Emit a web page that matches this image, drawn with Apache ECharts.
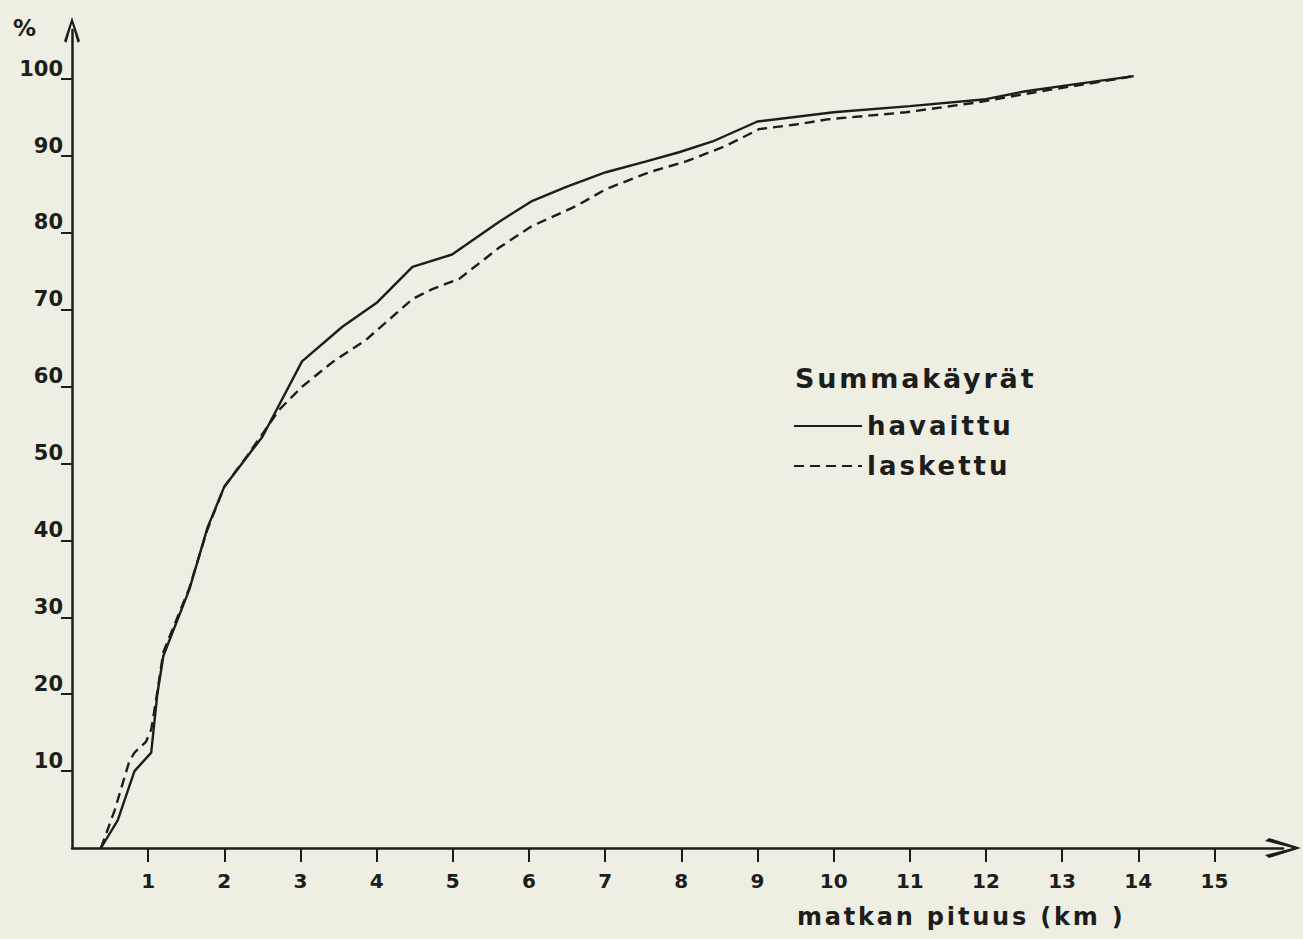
<!DOCTYPE html>
<html>
<head>
<meta charset="utf-8">
<title>Summakäyrät – matkan pituus</title>
<script src="https://cdn.jsdelivr.net/npm/echarts@6/dist/echarts.min.js"></script>
<style>
  html, body { margin: 0; padding: 0; background: #eeeee2; }
  #chart { width: 1303px; height: 939px; }
</style>
</head>
<body>
<div id="chart"></div>
<script>
// Cumulative share of trips (%) by trip length (km)
const havaittuKm  = [0.38, 0.6, 0.82, 1.04, 1.12, 1.2, 1.54, 1.78, 2.0, 2.5, 3.02, 3.55, 4.01, 4.47, 4.99, 5.6, 6.03, 6.49, 7.01, 7.54, 7.97, 8.41, 9.0, 10.0, 11.0, 12.0, 12.5, 13.13, 13.94];
const havaittuPct = [0, 3.6, 10, 12.4, 20, 25, 33.6, 41.7, 47, 53.5, 63.3, 67.8, 71, 75.6, 77.2, 81.4, 84.1, 86, 87.9, 89.3, 90.5, 91.9, 94.5, 95.7, 96.5, 97.4, 98.4, 99.3, 100.4];

const laskettuKm  = [0.38, 0.56, 0.75, 0.82, 0.97, 1.04, 1.1, 1.2, 1.54, 1.78, 2.0, 2.3, 2.72, 3.02, 3.42, 3.86, 4.16, 4.47, 4.73, 5.08, 5.61, 6.04, 6.62, 7.01, 7.58, 8.06, 8.58, 9.02, 9.5, 9.94, 10.95, 11.9, 12.7, 13.4, 13.94];
const laskettuPct = [0, 4.9, 11.2, 12.4, 13.8, 15.4, 19, 25.5, 33.8, 41.5, 47, 51, 57, 60, 63.2, 66.1, 68.7, 71.4, 72.7, 74, 78.1, 80.9, 83.5, 85.7, 87.9, 89.3, 91.3, 93.5, 94.1, 94.8, 95.7, 97.0, 98.4, 99.5, 100.4];

const xTicks = [1, 2, 3, 4, 5, 6, 7, 8, 9, 10, 11, 12, 13, 14, 15];
const yTicks = [10, 20, 30, 40, 50, 60, 70, 80, 90, 100];

const ink = '#1d1d1b';
const font = '"DejaVu Sans", sans-serif';
// open chevron arrow heads, tip pointing up (rotated along each axis)
const chevronY = 'path://M8,0 L16,24 L13.6,26 L8,6.5 L2.4,26 L0,24 Z';
const chevronX = 'path://M10,0 L20,32 L17,36 L10,8.5 L3,36 L0,32 Z';

// stencil-style lettering is widely spaced
const spacedTexts = {
  'Summakäyrät': 2.8,
  'havaittu': 3,
  'laskettu': 3,
  'matkan pituus (km )': 2.8
};

const pairs = (xs, ys) => xs.map((x, i) => [x, ys[i]]);

const el = document.getElementById('chart');
const chart = echarts.init(el, null, { renderer: 'svg' });
chart.setOption({
  backgroundColor: '#eeeee2',
  animation: false,
  grid: { left: 72, right: 20, top: 30, bottom: 91, containLabel: false },
  xAxis: {
    type: 'value', min: 0, max: 15.9, interval: 1,
    splitLine: { show: false },
    axisLine: { show: true, lineStyle: { color: ink, width: 2.5 },
      symbol: ['none', chevronX], symbolSize: [20, 36] },
    axisTick: { show: true, length: 14, lineStyle: { color: ink, width: 2 }, customValues: xTicks },
    axisLabel: { color: ink, fontFamily: font, fontWeight: 'bold', fontSize: 20, margin: 23, customValues: xTicks }
  },
  yAxis: {
    type: 'value', min: 0, max: 106.4, interval: 10,
    splitLine: { show: false },
    axisLine: { show: true, lineStyle: { color: ink, width: 2.5 },
      symbol: ['none', chevronY], symbolSize: [16, 26] },
    axisTick: { show: true, length: 11, lineStyle: { color: ink, width: 2 }, customValues: yTicks },
    axisLabel: { color: ink, fontFamily: font, fontWeight: 'bold', fontSize: 21, margin: 9,
      verticalAlign: 'bottom', customValues: yTicks }
  },
  legend: {
    orient: 'vertical', left: 793, top: 411, padding: 0,
    itemWidth: 68, itemHeight: 14, itemGap: 10,
    itemStyle: { opacity: 0 },
    textStyle: { color: ink, fontFamily: font, fontWeight: 'bold', fontSize: 26, lineHeight: 30 },
    data: ['havaittu', 'laskettu']
  },
  graphic: [
    { type: 'text', left: 13, top: 16,
      style: { text: '%', fill: ink, font: 'bold 23px ' + font } },
    { type: 'text', left: 795, top: 365,
      style: { text: 'Summakäyrät', fill: ink, font: 'bold 27px ' + font } },
    { type: 'text', left: 797, top: 905,
      style: { text: 'matkan pituus (km )', fill: ink, font: 'bold 24px ' + font } }
  ],
  series: [
    { name: 'havaittu', type: 'line', symbol: 'none', smooth: false,
      lineStyle: { color: ink, width: 2.4 }, itemStyle: { color: ink },
      data: pairs(havaittuKm, havaittuPct) },
    { name: 'laskettu', type: 'line', symbol: 'none', smooth: false,
      lineStyle: { color: ink, width: 2.4, type: [10, 6] }, itemStyle: { color: ink },
      data: pairs(laskettuKm, laskettuPct) }
  ]
});

function spaceLetters() {
  el.querySelectorAll('text').forEach(t => {
    const s = spacedTexts[t.textContent];
    if (s) t.setAttribute('letter-spacing', s);
  });
}
chart.on('finished', spaceLetters);
spaceLetters();
setTimeout(spaceLetters, 50);
</script>
</body>
</html>
